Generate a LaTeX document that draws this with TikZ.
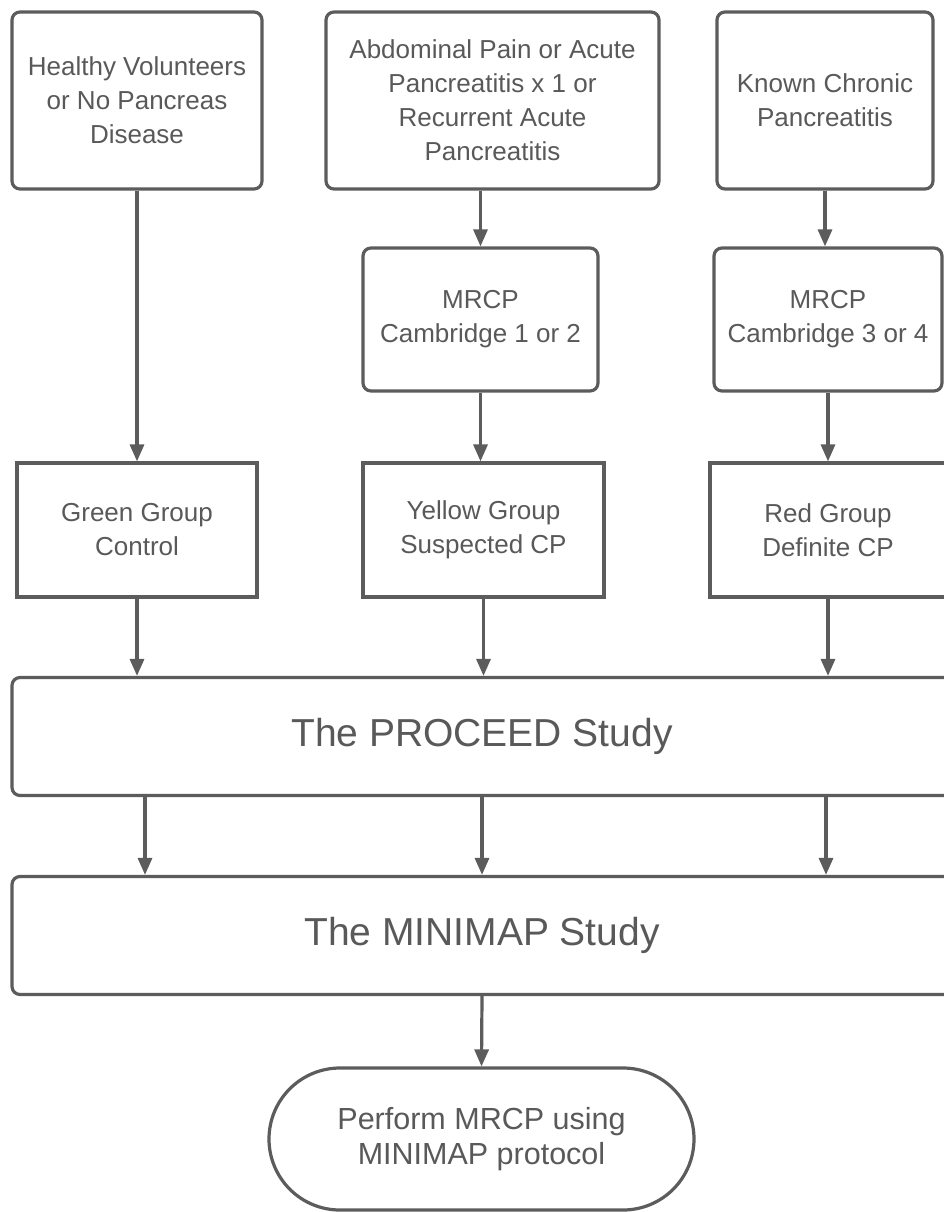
\documentclass[tikz,border=0pt]{standalone}
\usepackage{fontspec}
\setmainfont{Liberation Sans}
\usetikzlibrary{
  shapes.misc,
  arrows.meta,
  positioning,
  calc,
}
\definecolor{ink}{HTML}{595959}
\definecolor{lineGray}{HTML}{5C5C5C}
\tikzset{
  every node/.style={
    text=ink,
    align=center,
    inner sep=4pt,
  },
  entry/.style={
    rectangle, rounded corners=8pt,
    draw=lineGray, line width=3.2pt,
    fill=white,
    font=\fontsize{26}{34}\selectfont,
  },
  group/.style={
    rectangle,
    draw=lineGray, line width=3.2pt,
    fill=white,
    font=\fontsize{26}{34}\selectfont,
  },
  study/.style={
    rectangle, rounded corners=8pt,
    draw=lineGray, line width=3.2pt,
    fill=white,
    minimum width=940pt, minimum height=118pt,
    font=\fontsize{39}{46}\selectfont,
  },
  terminal/.style={
    rounded rectangle,
    draw=lineGray, line width=3.2pt,
    fill=white,
    minimum width=433pt, minimum height=142pt,
    font=\fontsize{30.5}{35}\selectfont,
  },
  flow/.style={
    -{Triangle[length=17pt,width=14pt]},
    draw=lineGray, line width=3.2pt,
  },
}

\begin{document}
\begin{tikzpicture}[x=1pt, y=-1pt]

% frame of the reference image (px, y down)
\useasboundingbox (0,0) rectangle (944,1212);
\clip (0,0) rectangle (944,1212);

% ----- Row 1: entry populations -----
\node[entry, minimum width=250pt, minimum height=177pt] (healthy) at (137,100.5)
  {Healthy Volunteers\\or No Pancreas\\Disease};
\node[entry, minimum width=333pt, minimum height=177pt] (pain) at (492.5,100.5)
  {Abdominal Pain or Acute\\Pancreatitis x 1 or\\Recurrent Acute\\Pancreatitis};
\node[entry, minimum width=216pt, minimum height=177pt] (chronic) at (825,100.5)
  {Known Chronic\\Pancreatitis};

% ----- Row 2: MRCP grading -----
\node[entry, minimum width=235pt, minimum height=143pt] (mrcpLow)  at (480.5,319.5)
  {MRCP\\Cambridge 1 or 2};
\node[entry, minimum width=228pt, minimum height=143pt] (mrcpHigh) at (828,319.5)
  {MRCP\\Cambridge 3 or 4};

% ----- Row 3: groups -----
\node[group, minimum width=240pt, minimum height=134pt] (green)  at (137,530)
  {Green Group\\Control};
\node[group, minimum width=241pt, minimum height=134pt] (yellow) at (483.5,530)
  {Yellow Group\\Suspected CP};
\node[group, minimum width=236pt, minimum height=134pt] (red)    at (828,530)
  {Red Group\\Definite CP};

% ----- Row 4/5: studies, then protocol -----
\node[study]    (proceed) at (482,736.5) {The PROCEED Study};
\node[study]    (minimap) at (482,935.5) {The MINIMAP Study};
\node[terminal] (perform) at (481.5,1139) {Perform MRCP using\\MINIMAP protocol};

% ============================================
% Edges
% ============================================
\draw[flow] (healthy) -- (green);
\draw[flow] (mrcpLow.north |- pain.south) -- (mrcpLow.north);
\draw[flow] (chronic.south) -- (chronic.south |- mrcpHigh.north);
\draw[flow] (mrcpLow) -- (mrcpLow |- yellow.north);
\draw[flow] (mrcpHigh) -- (red);

\draw[flow] (green.south)  -- (green.south |- proceed.north);
\draw[flow] (yellow.south) -- (yellow.south |- proceed.north);
\draw[flow] (red.south)    -- (red.south |- proceed.north);

\draw[flow] ([xshift=8pt]green.south |- proceed.south) -- ([xshift=8pt]green.south |- minimap.north);
\draw[flow] (proceed.south) -- (minimap.north);
\draw[flow] ([xshift=-2pt]red.south |- proceed.south) -- ([xshift=-2pt]red.south |- minimap.north);

\draw[flow] (minimap.south) -- (perform.north);

\end{tikzpicture}
\end{document}
